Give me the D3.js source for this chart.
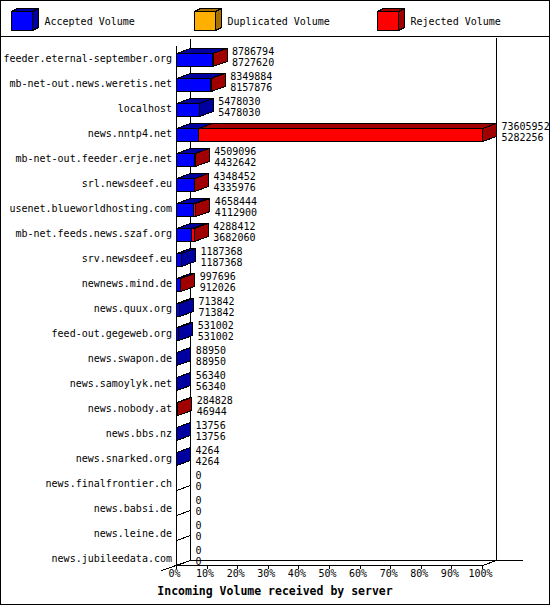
<!DOCTYPE html>
<html>
<head>
<meta charset="utf-8">
<script src="https://cdn.jsdelivr.net/npm/d3@7"></script>
<style>
body { margin: 0; background: #fff; }
svg { shape-rendering: crispEdges; }
text { font-family: "DejaVu Sans Mono", monospace; font-size: 10px; fill: #000; }
</style>
</head>
<body>
<svg width="550" height="605"></svg>
<script>
// data
const servers = [
  'feeder.eternal-september.org', 'mb-net-out.news.weretis.net', 'localhost',
  'news.nntp4.net', 'mb-net-out.feeder.erje.net', 'srl.newsdeef.eu',
  'usenet.blueworldhosting.com', 'mb-net.feeds.news.szaf.org', 'srv.newsdeef.eu',
  'newnews.mind.de', 'news.quux.org', 'feed-out.gegeweb.org', 'news.swapon.de',
  'news.samoylyk.net', 'news.nobody.at', 'news.bbs.nz', 'news.snarked.org',
  'news.finalfrontier.ch', 'news.babsi.de', 'news.leine.de', 'news.jubileedata.com'
];
const total = [8786794, 8349884, 5478030, 73605952, 4509096, 4348452, 4658444, 4288412,
  1187368, 997696, 713842, 531002, 88950, 56340, 284828, 13756, 4264, 0, 0, 0, 0];
const accepted = [8727620, 8157876, 5478030, 5282256, 4432642, 4335976, 4112900, 3682060,
  1187368, 912026, 713842, 531002, 88950, 56340, 46944, 13756, 4264, 0, 0, 0, 0];
const duplicated = [0, 0, 0, 0, 0, 0, 0, 0, 0, 0, 0, 0, 0, 0, 0, 0, 0, 0, 0, 0, 0];
const rejected = [59174, 192008, 0, 68323696, 76454, 12476, 545544, 606352,
  0, 85670, 0, 0, 0, 0, 237884, 0, 0, 0, 0, 0, 0];

const seriesNames = ['Accepted Volume', 'Duplicated Volume', 'Rejected Volume'];
const seriesKeys = ['accepted', 'duplicated', 'rejected'];
const colors = ['#0000ff', '#ffaf00', '#ff0000'];
const shades = ['#0000a0', '#a87000', '#a00000'];
const percentTicks = [0, 10, 20, 30, 40, 50, 60, 70, 80, 90, 100];
const title = 'Incoming Volume received by server';

const svg = d3.select('svg');
const width = +svg.attr('width');
const height = +svg.attr('height');
const plot = {left: 176.5, right: 482.5, top: 46.5, bottom: 570.5, floor: 565.5};
const depth = {x: 14, y: 5};
const barHalf = 6;

const rows = servers.map((s, i) => ({
  server: s, total: total[i],
  accepted: accepted[i], duplicated: duplicated[i], rejected: rejected[i]
}));
const stacked = d3.stack().keys(seriesKeys)(rows);

const xScale = d3.scaleLinear().domain([0, d3.max(total)]).range([plot.left, plot.right]);
const pScale = d3.scaleLinear().domain([0, 100]).range([plot.left - 0.5, plot.right - 0.5]);
const yScale = d3.scaleBand().domain(servers).range([plot.top, plot.bottom]);
const yc = s => Math.round(yScale(s) + yScale.bandwidth() / 2) + 0.5;

// frame
svg.append('rect').attr('x', 0.5).attr('y', 0.5)
  .attr('width', width - 1).attr('height', height - 1)
  .attr('fill', 'none').attr('stroke', '#000');
svg.append('line').attr('x1', 0).attr('x2', width).attr('y1', 36.5).attr('y2', 36.5)
  .attr('stroke', '#000');

// legend
const legend = svg.append('g').selectAll('g').data(seriesNames).enter().append('g')
  .attr('transform', (d, k) => `translate(${11.5 + k * 183},11.5)`);
const cube = (g, w, h, dx, dy, k) => {
  g.append('polygon').attr('points', `0,0 ${dx},${-dy} ${w + dx},${-dy} ${w},0`)
    .attr('fill', shades[k]).attr('stroke', '#000');
  g.append('polygon').attr('points', `${w},0 ${w + dx},${-dy} ${w + dx},${h - dy} ${w},${h}`)
    .attr('fill', shades[k]).attr('stroke', '#000');
  g.append('rect').attr('width', w).attr('height', h)
    .attr('fill', colors[k]).attr('stroke', '#000');
};
legend.each(function (d, k) { cube(d3.select(this), 21, 19, 6, 3, k); });
legend.append('text').attr('x', 33).attr('y', 13).text(d => d);

const g = svg.append('g').attr('stroke', '#000').attr('fill', 'none');

// walls and floor
g.append('line').attr('x1', plot.left).attr('x2', plot.left).attr('y1', 46).attr('y2', plot.floor);
g.append('line').attr('x1', plot.left + depth.x).attr('x2', plot.left + depth.x)
  .attr('y1', 39).attr('y2', plot.floor - depth.y);
g.append('line').attr('x1', plot.right + depth.x).attr('x2', plot.right + depth.x)
  .attr('y1', 38).attr('y2', plot.floor - depth.y);
g.append('line').attr('x1', plot.left + depth.x).attr('x2', 523)
  .attr('y1', plot.floor - depth.y).attr('y2', plot.floor - depth.y);
g.append('line').attr('x1', plot.left - 15).attr('y1', plot.floor + 5)
  .attr('x2', plot.left + depth.x).attr('y2', plot.floor - depth.y);
g.append('line').attr('x1', plot.right).attr('y1', plot.floor)
  .attr('x2', plot.right + depth.x).attr('y2', plot.floor - depth.y);

// empty rows only show the bottom edge
const emptyRows = servers.filter((s, i) => total[i] === 0);
g.selectAll('line.empty').data(emptyRows).enter().append('line')
  .attr('class', 'empty')
  .attr('x1', plot.left).attr('x2', plot.left + depth.x)
  .attr('y1', s => yc(s) + barHalf + 1)
  .attr('y2', s => yc(s) + barHalf + 1 - depth.y);

// bottom axis
const xAxis = svg.append('g').attr('transform', `translate(0,${plot.floor - 0.5})`)
  .call(d3.axisBottom(pScale).tickValues(percentTicks).tickSize(4).tickSizeOuter(0)
    .tickFormat(d => d + '%'));
xAxis.select('.domain').attr('stroke', '#000');
xAxis.selectAll('.tick line').attr('stroke', '#000');
xAxis.selectAll('text').attr('x', -2).attr('y', 5).attr('font-size', null)
  .attr('font-family', null).attr('fill', '#000');

// server labels
const yAxis = svg.append('g').attr('transform', 'translate(172,0)')
  .call(d3.axisLeft(yScale).tickSize(0).tickPadding(0));
yAxis.select('.domain').remove();
yAxis.selectAll('text').attr('font-size', null).attr('font-family', null)
  .attr('fill', '#000').attr('dy', null).attr('y', 3.5);

// bars
const bars = svg.append('g').attr('stroke', '#000');
stacked.forEach((layer, k) => {
  const segs = layer.filter(d => d[1] > d[0]);
  bars.selectAll(null).data(segs).enter().append('rect')
    .attr('x', d => xScale(d[0]))
    .attr('y', d => yc(d.data.server) - barHalf)
    .attr('width', d => xScale(d[1]) - xScale(d[0]))
    .attr('height', barHalf * 2 + 1)
    .attr('fill', colors[k]);
  bars.selectAll(null).data(segs).enter().append('polygon')
    .attr('points', d => {
      const x0 = xScale(d[0]), x1 = xScale(d[1]), y = yc(d.data.server) - barHalf;
      return `${x0},${y} ${x0 + depth.x},${y - depth.y} ${x1 + depth.x},${y - depth.y} ${x1},${y}`;
    })
    .attr('fill', shades[k]);
});

// side face coloured by the last non-empty segment
const sideIndex = rows.map(r => {
  let last = -1;
  seriesKeys.forEach((key, k) => { if (r[key] > 0) last = k; });
  return last;
});
bars.selectAll(null).data(rows.filter((r, i) => sideIndex[i] >= 0)).enter().append('polygon')
  .attr('points', r => {
    const x = xScale(r.total), y0 = yc(r.server) - barHalf, y1 = yc(r.server) + barHalf + 1;
    return `${x},${y0} ${x + depth.x},${y0 - depth.y} ${x + depth.x},${y1 - depth.y} ${x},${y1}`;
  })
  .attr('fill', r => shades[sideIndex[servers.indexOf(r.server)]]);

// value labels
const labels = svg.append('g');
labels.selectAll(null).data(rows).enter().append('text')
  .attr('x', r => xScale(r.total) + 19).attr('y', r => yc(r.server) - 5)
  .text(r => r.total);
labels.selectAll(null).data(rows).enter().append('text')
  .attr('x', r => xScale(r.total) + 19).attr('y', r => yc(r.server) + 6)
  .text(r => r.accepted);

// title
svg.append('text').attr('x', width / 2).attr('y', 595).attr('text-anchor', 'middle')
  .attr('font-weight', 'bold').style('font-size', '11.5px').text(title);
</script>
</body>
</html>
